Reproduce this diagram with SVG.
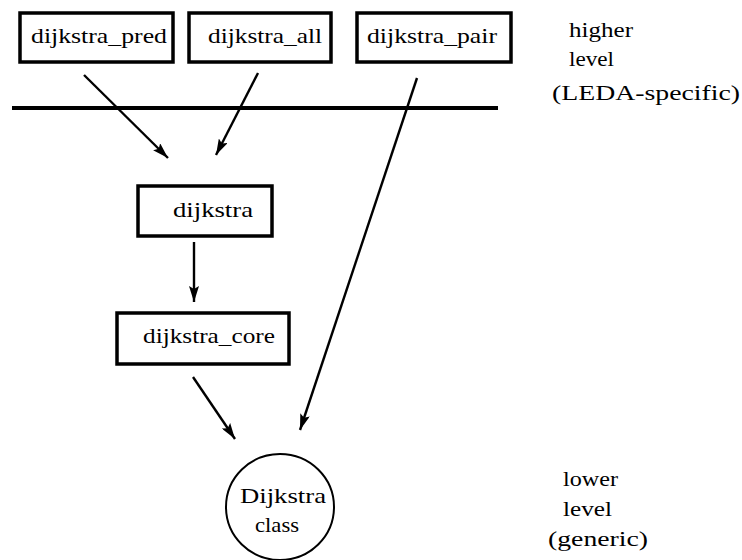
<svg xmlns="http://www.w3.org/2000/svg" width="742" height="560" viewBox="0 0 742 560">
<style>
.box{fill:#fff;stroke:#000;stroke-width:3.5}
.t{font-family:"Liberation Serif","DejaVu Serif",serif;font-size:22px;fill:#000}
.c{fill:none;stroke:#000;stroke-width:2.4}
</style>
<defs>
<marker id="ah" viewBox="0 0 16 10" refX="16" refY="5" markerWidth="16" markerHeight="10" markerUnits="userSpaceOnUse" orient="auto">
<path d="M0,0 L16,5 L0,10 L3,5 Z" fill="#000"/>
</marker>
</defs>
<rect width="742" height="560" fill="#fff"/>
<g id="node-pred"><rect class="box" x="20" y="13" width="153" height="49"/><text class="t" x="31" y="43" textLength="136" lengthAdjust="spacingAndGlyphs">dijkstra_pred</text></g>
<g id="node-all"><rect class="box" x="189" y="13" width="142" height="49"/><text class="t" x="208" y="43" textLength="114" lengthAdjust="spacingAndGlyphs">dijkstra_all</text></g>
<g id="node-pair"><rect class="box" x="357" y="13" width="154" height="49"/><text class="t" x="367" y="43" textLength="130" lengthAdjust="spacingAndGlyphs">dijkstra_pair</text></g>
<g id="node-dijkstra"><rect class="box" x="138" y="186" width="134" height="50"/><text class="t" x="173" y="217" textLength="80" lengthAdjust="spacingAndGlyphs">dijkstra</text></g>
<g id="node-core"><rect class="box" x="117" y="313" width="172" height="51"/><text class="t" x="143" y="343" textLength="132" lengthAdjust="spacingAndGlyphs">dijkstra_core</text></g>
<g id="node-class"><ellipse cx="280" cy="507" rx="54" ry="53" fill="#fff" stroke="#000" stroke-width="2"/><text class="t" x="240" y="503" textLength="86" lengthAdjust="spacingAndGlyphs">Dijkstra</text><text class="t" x="255" y="532" textLength="44" lengthAdjust="spacingAndGlyphs">class</text></g>
<g id="level-line"><line x1="12" y1="108" x2="498" y2="108" stroke="#000" stroke-width="4"/></g>
<g id="labels">
<text class="t" x="569" y="37" textLength="64" lengthAdjust="spacingAndGlyphs">higher</text>
<text class="t" x="569" y="66" textLength="45" lengthAdjust="spacingAndGlyphs">level</text>
<text class="t" x="552" y="100" textLength="188" lengthAdjust="spacingAndGlyphs">(LEDA-specific)</text>
<text class="t" x="563" y="486" textLength="55" lengthAdjust="spacingAndGlyphs">lower</text>
<text class="t" x="563" y="516" textLength="49" lengthAdjust="spacingAndGlyphs">level</text>
<text class="t" x="548" y="546" textLength="100" lengthAdjust="spacingAndGlyphs">(generic)</text>
</g>
<g id="connectors">
<line class="c" x1="84" y1="75" x2="168" y2="158" marker-end="url(#ah)"/>
<line class="c" x1="258" y1="73" x2="216" y2="155" marker-end="url(#ah)"/>
<line class="c" x1="417" y1="78" x2="300" y2="430" marker-end="url(#ah)"/>
<line class="c" x1="194" y1="242" x2="194" y2="302" marker-end="url(#ah)"/>
<line class="c" x1="193" y1="377" x2="235" y2="439" marker-end="url(#ah)"/>
</g>
</svg>
